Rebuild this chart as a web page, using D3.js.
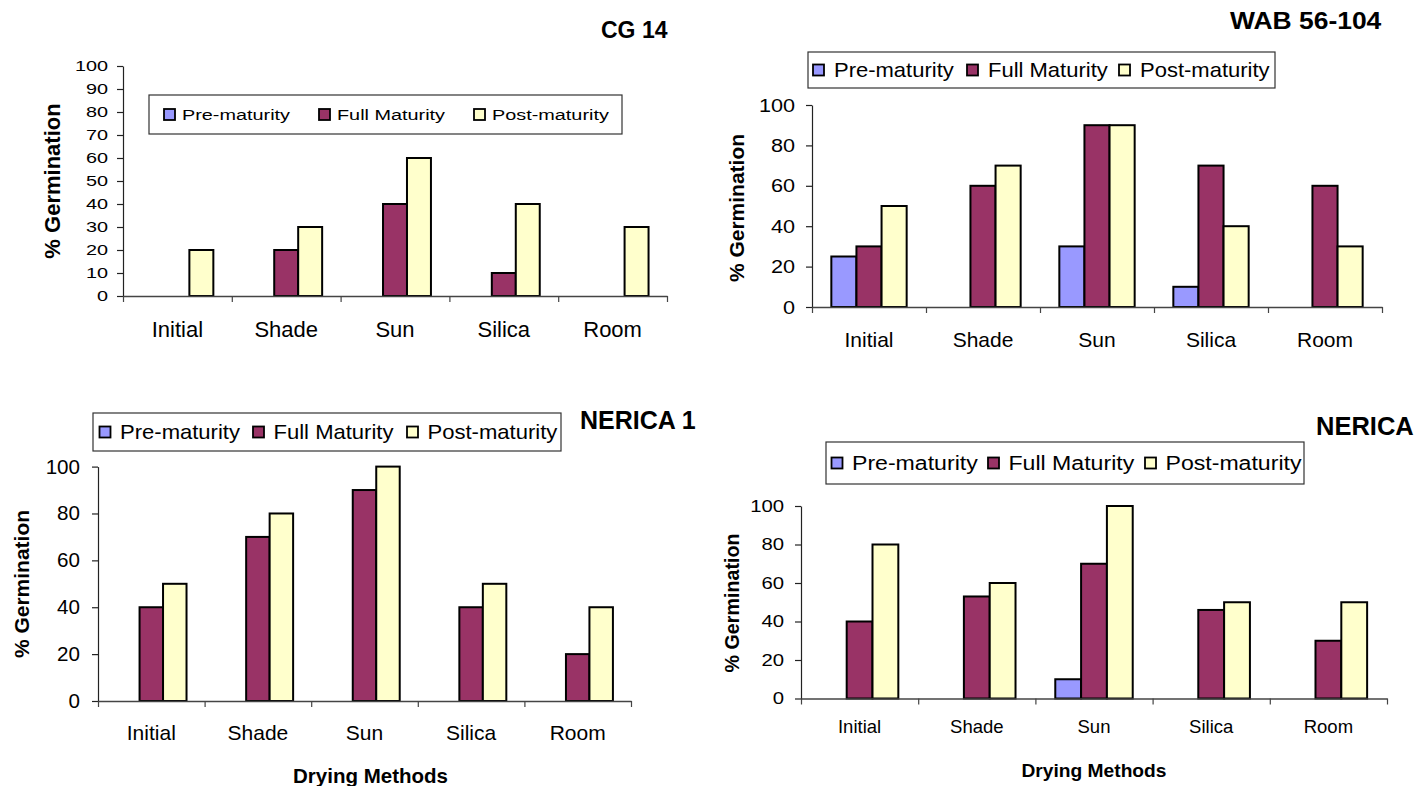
<!DOCTYPE html>
<html>
<head>
<meta charset="utf-8">
<script src="https://cdn.jsdelivr.net/npm/d3@7"></script>
<style>
  html, body { margin: 0; padding: 0; background: #fff; }
  svg { display: block; font-family: "Liberation Sans", Arial, Helvetica, sans-serif; }
</style>
</head>
<body>
<svg id="chart" width="1420" height="786"></svg>
<script>
// ---------------- DATA ----------------
const categories = ["Initial", "Shade", "Sun", "Silica", "Room"];
const seriesNames = ["Pre-maturity", "Full Maturity", "Post-maturity"];
const seriesColors = ["#9999FF", "#993366", "#FFFFCC"];

// CG 14
const cg14Pre  = [0, 0, 0, 0, 0];
const cg14Full = [0, 20, 40, 10, 0];
const cg14Post = [20, 30, 60, 40, 30];
const cg14Ticks = [0, 10, 20, 30, 40, 50, 60, 70, 80, 90, 100];

// WAB 56-104
const wabPre  = [25, 0, 30, 10, 0];
const wabFull = [30, 60, 90, 70, 60];
const wabPost = [50, 70, 90, 40, 30];
const wabTicks = [0, 20, 40, 60, 80, 100];

// NERICA 1
const n1Pre  = [0, 0, 0, 0, 0];
const n1Full = [40, 70, 90, 40, 20];
const n1Post = [50, 80, 100, 50, 40];
const n1Ticks = [0, 20, 40, 60, 80, 100];

// NERICA (second)
const n2Pre  = [0, 0, 10, 0, 0];
const n2Full = [40, 53, 70, 46, 30];
const n2Post = [80, 60, 100, 50, 50];
const n2Ticks = [0, 20, 40, 60, 80, 100];

const titles = ["CG 14", "WAB 56-104", "NERICA 1", "NERICA"];
const yTitle = "% Germination";
const xTitle = "Drying Methods";

// ---------------- LAYOUT ----------------
const panels = [
  { title: titles[0], series: [cg14Pre, cg14Full, cg14Post], ticks: cg14Ticks,
    x0: 123, x1: 667, yZero: 296, yTop: 66,
    tickFont: 15.5, tickSx: 1.28, tickGap: 15,
    catFont: 22, catBase: 337,
    legend: { x: 149, y: 95, w: 473, h: 39, font: 15.5, sx: 1.28, offs: [15, 170, 325], gap: 18 },
    titlePos: { x: 601, y: 38, size: 23, sx: 1.0 },
    yLab: { cx: 52, cy: 181, size: 22 },
    xLab: null },
  { title: titles[1], series: [wabPre, wabFull, wabPost], ticks: wabTicks,
    x0: 812, x1: 1382, yZero: 307, yTop: 105,
    tickFont: 19, tickSx: 1.14, tickGap: 17,
    catFont: 21, catBase: 347,
    legend: { x: 808, y: 52, w: 467, h: 36, font: 20, sx: 1.1, offs: [5, 159, 311], gap: 21 },
    titlePos: { x: 1230, y: 28.5, size: 23, sx: 1.15 },
    yLab: { cx: 737, cy: 208, size: 21 },
    xLab: null },
  { title: titles[2], series: [n1Pre, n1Full, n1Post], ticks: n1Ticks,
    x0: 98, x1: 631, yZero: 701, yTop: 466.6,
    tickFont: 20, tickSx: 1.03, tickGap: 18,
    catFont: 21, catBase: 739.5,
    legend: { x: 93, y: 413, w: 468, h: 38, font: 21, sx: 1.05, offs: [6.5, 160, 314], gap: 20.5 },
    titlePos: { x: 580, y: 428.5, size: 25, sx: 1.0 },
    yLab: { cx: 22, cy: 584, size: 21 },
    xLab: { cx: 370.5, y: 783, size: 20.5 } },
  { title: titles[3], series: [n2Pre, n2Full, n2Post], ticks: n2Ticks,
    x0: 801, x1: 1387, yZero: 698.5, yTop: 506,
    tickFont: 16, tickSx: 1.27, tickGap: 17,
    catFont: 18.5, catBase: 733,
    legend: { x: 826, y: 442, w: 478, h: 42, font: 21, sx: 1.1, offs: [5.5, 162, 319], gap: 20.5 },
    titlePos: { x: 1316, y: 435, size: 25.5, sx: 1.0 },
    yLab: { cx: 732, cy: 603, size: 19.7 },
    xLab: { cx: 1094, y: 776.5, size: 19.2 } }
];

const svg = d3.select("#chart");

panels.forEach(p => {
  const g = svg.append("g");

  const y = d3.scaleLinear().domain([0, 100]).range([p.yZero, p.yTop]);
  const xCat = d3.scaleBand().domain(categories).range([p.x0, p.x1]).padding(0);
  const xSer = d3.scaleBand().domain(seriesNames).range([0, xCat.bandwidth()])
                 .paddingInner(0).paddingOuter(0.77);

  // bars
  p.series.forEach((vals, si) => {
    g.append("g").selectAll("rect")
      .data(categories.map((c, i) => ({ c, v: vals[i] })).filter(d => d.v > 0))
      .join("rect")
      .attr("x", d => xCat(d.c) + xSer(seriesNames[si]))
      .attr("y", d => y(d.v))
      .attr("width", xSer.bandwidth())
      .attr("height", d => y(0) - y(d.v))
      .attr("fill", seriesColors[si])
      .attr("stroke", "#000")
      .attr("stroke-width", 2);
  });

  // y axis
  const yAxis = d3.axisLeft(y).tickValues(p.ticks).tickSize(6).tickSizeOuter(0).tickPadding(p.tickGap - 6);
  const ya = g.append("g").attr("transform", `translate(${p.x0},0)`).call(yAxis);
  ya.select(".domain").attr("stroke", "#222").attr("stroke-width", 1.2);
  ya.selectAll(".tick line").attr("stroke", "#222").attr("stroke-width", 1.2);
  ya.selectAll(".tick text")
    .attr("font-family", null)
    .style("font-size", p.tickFont + "px")
    .attr("fill", "#000")
    .attr("x", -p.tickGap / p.tickSx)
    .attr("transform", `scale(${p.tickSx},1)`);

  // x axis (boundary ticks)
  const xLin = d3.scaleLinear().domain([0, categories.length]).range([p.x0, p.x1]);
  const xAxis = d3.axisBottom(xLin).tickValues(d3.range(0, categories.length + 1))
                 .tickFormat("").tickSize(6).tickSizeOuter(0);
  const xa = g.append("g").attr("transform", `translate(0,${p.yZero})`).call(xAxis);
  xa.select(".domain").attr("stroke", "#444").attr("stroke-width", 1.4);
  xa.selectAll(".tick line").attr("stroke", "#444").attr("stroke-width", 1.2);

  // category labels
  g.append("g").selectAll("text").data(categories).join("text")
    .attr("x", d => xCat(d) + xCat.bandwidth() / 2)
    .attr("y", p.catBase)
    .attr("text-anchor", "middle")
    .style("font-size", p.catFont + "px")
    .text(d => d);

  // legend
  const L = p.legend;
  const lg = g.append("g");
  lg.append("rect").attr("x", L.x).attr("y", L.y).attr("width", L.w).attr("height", L.h)
    .attr("fill", "#fff").attr("stroke", "#333").attr("stroke-width", 1.2);
  const cy = L.y + L.h / 2;
  seriesNames.forEach((s, i) => {
    const sx = L.x + L.offs[i];
    lg.append("rect").attr("x", sx).attr("y", cy - 5.5).attr("width", 11).attr("height", 11)
      .attr("fill", seriesColors[i]).attr("stroke", "#000").attr("stroke-width", 1.8);
    lg.append("text")
      .attr("transform", `translate(${sx + L.gap},${cy}) scale(${L.sx},1)`)
      .attr("dy", "0.35em")
      .style("font-size", L.font + "px")
      .text(s);
  });

  // title
  const T = p.titlePos;
  g.append("text")
    .attr("transform", `translate(${T.x},${T.y}) scale(${T.sx},1)`)
    .style("font-size", T.size + "px").style("font-weight", "bold")
    .text(p.title);

  // y title
  g.append("text")
    .attr("transform", `translate(${p.yLab.cx},${p.yLab.cy}) rotate(-90)`)
    .attr("text-anchor", "middle").attr("dy", "0.35em")
    .style("font-size", p.yLab.size + "px").style("font-weight", "bold")
    .text(yTitle);

  // x title
  if (p.xLab) {
    g.append("text")
      .attr("x", p.xLab.cx).attr("y", p.xLab.y)
      .attr("text-anchor", "middle")
      .style("font-size", p.xLab.size + "px").style("font-weight", "bold")
      .text(xTitle);
  }
});
</script>
</body>
</html>
